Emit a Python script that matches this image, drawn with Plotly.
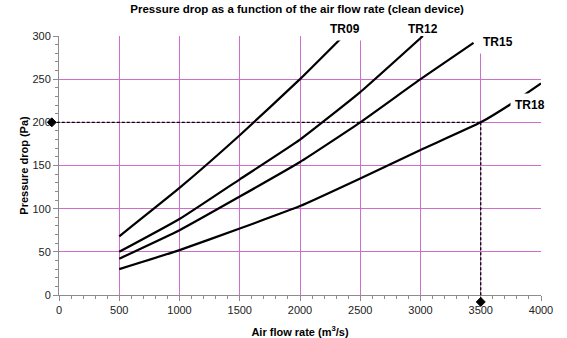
import plotly.graph_objects as go

# Air flow rate (m3/s) and pressure drop (Pa) for each device size
tr09_flow = [500, 1000, 1500, 2000, 2360]
tr09_dp = [68, 124, 185, 250, 300]

tr12_flow = [500, 1000, 1500, 2000, 2500, 3020]
tr12_dp = [50, 88, 134, 180, 235, 300]

tr15_flow = [500, 1000, 1500, 2000, 2500, 3000, 3440]
tr15_dp = [42, 75, 114, 154, 200, 250, 292]

tr18_flow = [500, 1000, 1500, 2000, 2500, 3000, 3500, 3770, 4000]
tr18_dp = [30, 52, 77, 103, 135, 168, 200, 223, 245]

# Operating point read-off (flow 3500 m3/s -> 200 Pa), with end markers
op_flow = 3500
op_dp = 200
marker_flow = [-60, 3500]
marker_dp = [200, -8]

# Curve labels
label_names = ["TR09", "TR12", "TR15", "TR18"]
label_flow = [2370, 3017, 3643, 3905]
label_dp = [308.5, 308.5, 293, 219.7]
label_bg = ["white", "rgba(0,0,0,0)", "white", "white"]

X_RANGE = [0, 4000]
Y_RANGE = [0, 300]

FONT = "Liberation Sans, Arial, sans-serif"
GRID = "#CC6ECC"
AXIS = "#8C8C8C"


def fx(v):
    return (v - X_RANGE[0]) / (X_RANGE[1] - X_RANGE[0])


def fy(v):
    return (v - Y_RANGE[0]) / (Y_RANGE[1] - Y_RANGE[0])


fig = go.Figure()

for flow, dp, name in [
    (tr09_flow, tr09_dp, "TR09"),
    (tr12_flow, tr12_dp, "TR12"),
    (tr15_flow, tr15_dp, "TR15"),
    (tr18_flow, tr18_dp, "TR18"),
]:
    fig.add_trace(go.Scatter(
        x=flow, y=dp, mode="lines", name=name,
        line=dict(color="black", width=2.2, shape="spline", smoothing=0.4),
        showlegend=False, hoverinfo="skip",
    ))

# Dashed read-off lines, drawn in paper space so they can run past the axes
dash_style = dict(color="black", width=1.3, dash="3px,2px")
fig.add_shape(type="line", xref="paper", yref="paper",
              x0=fx(marker_flow[0]), y0=fy(op_dp), x1=fx(op_flow), y1=fy(op_dp),
              line=dash_style, layer="above")
fig.add_shape(type="line", xref="paper", yref="paper",
              x0=fx(op_flow), y0=fy(op_dp), x1=fx(op_flow), y1=fy(marker_dp[1]),
              line=dash_style, layer="above")

# Diamond end markers (pixel-sized paths anchored at the data positions)
diamond = "M0,4.5 L4.5,0 L0,-4.5 L-4.5,0 Z"
for mx, my in zip(marker_flow, marker_dp):
    fig.add_shape(type="path", xref="paper", yref="paper",
                  xsizemode="pixel", ysizemode="pixel",
                  xanchor=fx(mx), yanchor=fy(my), path=diamond,
                  fillcolor="black", line=dict(color="black", width=1),
                  layer="above")

for name, lx, ly, bg in zip(label_names, label_flow, label_dp, label_bg):
    fig.add_annotation(
        x=lx, y=fy(ly), xref="x", yref="paper",
        text="<b>%s</b>" % name, showarrow=False,
        font=dict(family=FONT, size=12, color="black"),
        bgcolor=bg, borderpad=4, xanchor="center", yanchor="middle",
    )

axis_common = dict(
    showline=True, linecolor=AXIS, linewidth=1,
    showgrid=True, gridcolor=GRID, gridwidth=1,
    zeroline=False, automargin=False,
    ticks="outside", tickcolor=AXIS, ticklen=5, tickwidth=1,
    tickfont=dict(family=FONT, size=11, color="#222222"),
    fixedrange=True,
)

fig.update_layout(
    width=567, height=338,
    margin=dict(l=59, r=26, t=36, b=43),
    paper_bgcolor="white", plot_bgcolor="white",
    title=dict(
        text="<b>Pressure drop as a function of the air flow rate (clean device)</b>",
        font=dict(family=FONT, size=11.5, color="black"),
        x=0.524, xanchor="center", y=1 - 9 / 338, yanchor="middle",
    ),
    xaxis=dict(
        range=X_RANGE, tick0=0, dtick=500,
        minor=dict(dtick=100, ticks="outside", ticklen=3, tickcolor=AXIS, showgrid=False),
        title=dict(text="<b>Air flow rate (m<sup>3</sup>/s)</b>",
                   font=dict(family=FONT, size=11, color="black"), standoff=19),
        **axis_common,
    ),
    yaxis=dict(
        range=Y_RANGE, tick0=0, dtick=50,
        minor=dict(dtick=10, ticks="outside", ticklen=3, tickcolor=AXIS, showgrid=False),
        title=dict(text="<b>Pressure drop (Pa)</b>",
                   font=dict(family=FONT, size=11, color="black"), standoff=1),
        **axis_common,
    ),
)

fig.write_html("out.html")
